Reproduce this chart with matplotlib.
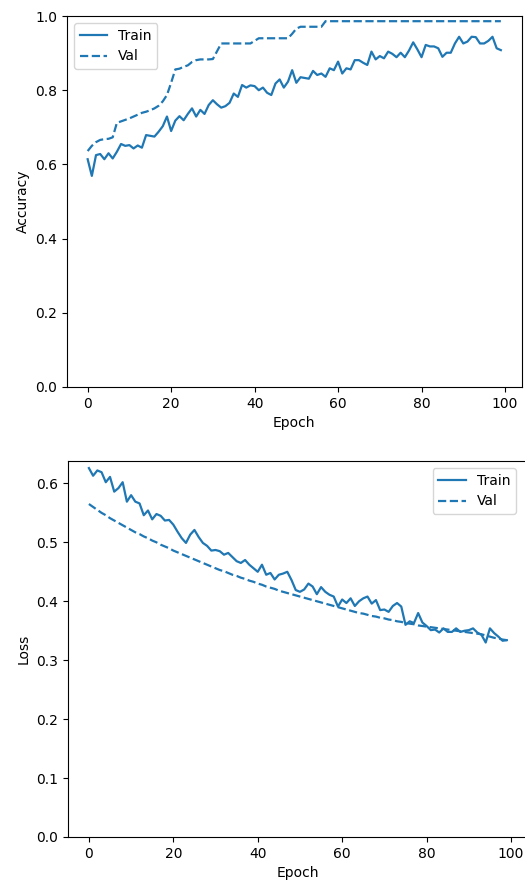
import matplotlib
matplotlib.use("Agg")
import matplotlib.pyplot as plt
import numpy as np

# ---- data ----
train_acc = [0.614, 0.569, 0.625, 0.628, 0.614, 0.630, 0.616, 0.634, 0.655, 0.650,
             0.652, 0.643, 0.651, 0.645, 0.679, 0.677, 0.675, 0.688, 0.703, 0.729,
             0.690, 0.718, 0.730, 0.719, 0.736, 0.751, 0.729, 0.747, 0.736, 0.760,
             0.773, 0.762, 0.753, 0.757, 0.766, 0.791, 0.782, 0.814, 0.807, 0.813,
             0.811, 0.800, 0.807, 0.793, 0.787, 0.818, 0.829, 0.807, 0.823, 0.854,
             0.820, 0.835, 0.833, 0.831, 0.852, 0.841, 0.845, 0.836, 0.859, 0.854,
             0.877, 0.845, 0.859, 0.856, 0.881, 0.881, 0.874, 0.868, 0.904, 0.883,
             0.892, 0.886, 0.904, 0.898, 0.889, 0.901, 0.889, 0.907, 0.929, 0.910,
             0.889, 0.922, 0.918, 0.918, 0.913, 0.890, 0.901, 0.901, 0.926, 0.944,
             0.926, 0.931, 0.944, 0.943, 0.926, 0.926, 0.933, 0.944, 0.913, 0.908]

val_acc = [0.636, 0.650, 0.660, 0.666, 0.668, 0.669, 0.673, 0.712, 0.716, 0.720,
           0.724, 0.729, 0.734, 0.739, 0.742, 0.746, 0.751, 0.758, 0.770, 0.787,
           0.820, 0.856, 0.858, 0.863, 0.867, 0.876, 0.881, 0.883, 0.883, 0.883,
           0.884, 0.905, 0.926, 0.926, 0.926, 0.926, 0.926, 0.926, 0.926, 0.926,
           0.933, 0.940, 0.940, 0.940, 0.940, 0.940, 0.940, 0.940, 0.940, 0.952,
           0.966, 0.971, 0.971, 0.971, 0.971, 0.971, 0.971, 0.986, 0.986, 0.986,
           0.986, 0.986, 0.986, 0.986, 0.986, 0.986, 0.986, 0.986, 0.986, 0.986,
           0.986, 0.986, 0.986, 0.986, 0.986, 0.986, 0.986, 0.986, 0.986, 0.986,
           0.986, 0.986, 0.986, 0.986, 0.986, 0.986, 0.986, 0.986, 0.986, 0.986,
           0.986, 0.986, 0.986, 0.986, 0.986, 0.986, 0.986, 0.986, 0.986, 0.986]

train_loss = [0.626, 0.613, 0.622, 0.619, 0.602, 0.611, 0.586, 0.592, 0.602, 0.569,
              0.580, 0.569, 0.566, 0.546, 0.554, 0.539, 0.548, 0.545, 0.537, 0.538,
              0.530, 0.518, 0.507, 0.499, 0.513, 0.521, 0.509, 0.499, 0.494, 0.486,
              0.487, 0.485, 0.479, 0.482, 0.475, 0.468, 0.465, 0.470, 0.462, 0.456,
              0.450, 0.462, 0.445, 0.448, 0.437, 0.445, 0.447, 0.450, 0.436, 0.419,
              0.416, 0.420, 0.430, 0.425, 0.412, 0.424, 0.416, 0.411, 0.408, 0.391,
              0.403, 0.397, 0.405, 0.392, 0.400, 0.405, 0.408, 0.396, 0.402, 0.385,
              0.386, 0.382, 0.392, 0.397, 0.391, 0.360, 0.366, 0.363, 0.380, 0.364,
              0.358, 0.351, 0.352, 0.347, 0.354, 0.348, 0.348, 0.354, 0.348, 0.350,
              0.351, 0.354, 0.347, 0.343, 0.330, 0.354, 0.346, 0.340, 0.333, 0.334]

val_loss = [0.565, 0.560, 0.555, 0.550, 0.546, 0.541, 0.537, 0.533, 0.529, 0.525,
            0.521, 0.517, 0.514, 0.510, 0.507, 0.503, 0.500, 0.496, 0.493, 0.490,
            0.486, 0.483, 0.480, 0.477, 0.474, 0.471, 0.468, 0.465, 0.462, 0.459,
            0.456, 0.453, 0.451, 0.448, 0.445, 0.443, 0.440, 0.438, 0.435, 0.433,
            0.430, 0.428, 0.425, 0.423, 0.421, 0.418, 0.416, 0.414, 0.412, 0.410,
            0.408, 0.406, 0.404, 0.402, 0.400, 0.398, 0.396, 0.394, 0.392, 0.390,
            0.388, 0.386, 0.384, 0.382, 0.380, 0.379, 0.377, 0.375, 0.374, 0.372,
            0.371, 0.369, 0.368, 0.366, 0.365, 0.363, 0.362, 0.361, 0.359, 0.358,
            0.357, 0.356, 0.355, 0.354, 0.353, 0.352, 0.351, 0.350, 0.349, 0.348,
            0.347, 0.346, 0.345, 0.344, 0.342, 0.340, 0.338, 0.337, 0.335, 0.334]

epochs = np.arange(len(train_acc))
color = "#1f77b4"

fig = plt.figure(figsize=(5.25, 8.84), dpi=100)

ax1 = fig.add_axes([67 / 525, 497 / 884, 454.5 / 525, 371 / 884])
ax1.plot(epochs, train_acc, color=color, lw=1.6, label="Train")
ax1.plot(epochs, val_acc, color=color, lw=1.6, ls="--", label="Val")
ax1.set_ylim(0, 1.0)
ax1.set_xlabel("Epoch")
ax1.set_ylabel("Accuracy")
ax1.legend(loc="upper left")

ax2 = fig.add_axes([68 / 525, 47 / 884, 459.7 / 525, 376 / 884])
ax2.plot(epochs, train_loss, color=color, lw=1.6, label="Train")
ax2.plot(epochs, val_loss, color=color, lw=1.6, ls="--", label="Val")
ax2.set_ylim(0, 0.638)
ax2.set_xlabel("Epoch")
ax2.set_ylabel("Loss")
ax2.legend(loc="upper right", bbox_to_anchor=(455 / 459.7, 1.0))

fig.savefig("out.png", dpi=100)
